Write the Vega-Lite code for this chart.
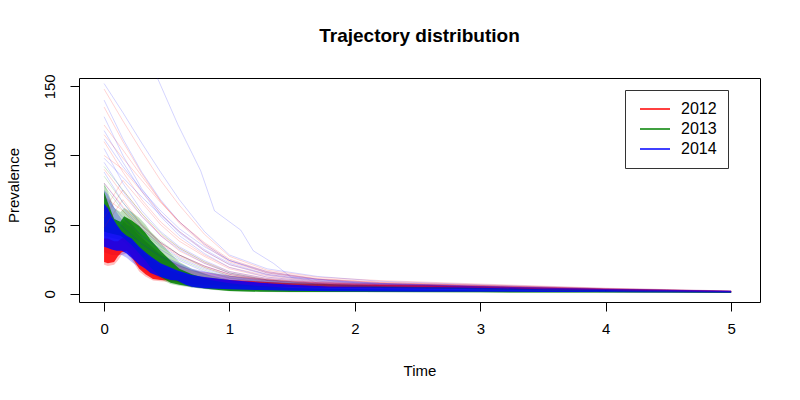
{
  "$schema": "https://vega.github.io/schema/vega-lite/v6.json",
  "width": 681,
  "height": 224,
  "autosize": {"type": "none"},
  "padding": {"left": 79, "top": 78, "right": 40, "bottom": 98},
  "background": "white",
  "config": {
    "font": "Liberation Sans",
    "view": {"stroke": "black", "strokeWidth": 1},
    "axis": {"grid": false, "domain": false, "tickColor": "black", "tickSize": 9, "labelColor": "black", "labelFontSize": 15, "titleFontSize": 15, "titleFontWeight": "normal", "titleColor": "black", "labelFont": "Liberation Sans", "titleFont": "Liberation Sans"}
  },
  "title": {"text": "Trajectory distribution", "fontSize": 19, "fontWeight": "bold", "font": "Liberation Sans", "anchor": "middle", "offset": 28, "color": "black"},
  "datasets": {
    "band": [
      {"year": "2012", "t": 0, "lo": 23, "hi": 40, "hlo": 21, "hhi": 48},
      {"year": "2012", "t": 0.03, "lo": 22, "hi": 40, "hlo": 20, "hhi": 48},
      {"year": "2012", "t": 0.08, "lo": 23, "hi": 38, "hlo": 21, "hhi": 46},
      {"year": "2012", "t": 0.11, "lo": 27, "hi": 38, "hlo": 24, "hhi": 46},
      {"year": "2012", "t": 0.14, "lo": 30, "hi": 40, "hlo": 28, "hhi": 50},
      {"year": "2012", "t": 0.18, "lo": 31, "hi": 42, "hlo": 29, "hhi": 55},
      {"year": "2012", "t": 0.21, "lo": 28, "hi": 40, "hlo": 26, "hhi": 52},
      {"year": "2012", "t": 0.28, "lo": 18, "hi": 33, "hlo": 16, "hhi": 44},
      {"year": "2012", "t": 0.33, "lo": 14, "hi": 28, "hlo": 12.5, "hhi": 38},
      {"year": "2012", "t": 0.39, "lo": 10.7, "hi": 24, "hlo": 9.5, "hhi": 33},
      {"year": "2012", "t": 0.45, "lo": 10, "hi": 20, "hlo": 9, "hhi": 28},
      {"year": "2012", "t": 0.55, "lo": 9.5, "hi": 16, "hlo": 8.5, "hhi": 23},
      {"year": "2012", "t": 0.62, "lo": 8, "hi": 14, "hlo": 7.2, "hhi": 20},
      {"year": "2012", "t": 0.7, "lo": 7, "hi": 12.5, "hlo": 6.3, "hhi": 17},
      {"year": "2012", "t": 1.0, "lo": 5.5, "hi": 10, "hlo": 5, "hhi": 13},
      {"year": "2012", "t": 1.5, "lo": 4.5, "hi": 7.5, "hlo": 4, "hhi": 9},
      {"year": "2012", "t": 2.0, "lo": 4, "hi": 6.5, "hlo": 3.6, "hhi": 7.5},
      {"year": "2012", "t": 2.6, "lo": 3.8, "hi": 6, "hlo": 3.4, "hhi": 6.8},
      {"year": "2012", "t": 3.0, "lo": 3.2, "hi": 5, "hlo": 2.9, "hhi": 5.8},
      {"year": "2012", "t": 3.5, "lo": 2.5, "hi": 4, "hlo": 2.2, "hhi": 4.6},
      {"year": "2012", "t": 4.0, "lo": 2, "hi": 3.2, "hlo": 1.8, "hhi": 3.6},
      {"year": "2012", "t": 4.5, "lo": 1.5, "hi": 2.5, "hlo": 1.3, "hhi": 2.8},
      {"year": "2012", "t": 5.0, "lo": 1, "hi": 1.8, "hlo": 0.9, "hhi": 2},
      {"year": "2013", "t": 0, "lo": 45, "hi": 74, "hlo": 42, "hhi": 80},
      {"year": "2013", "t": 0.03, "lo": 44, "hi": 66, "hlo": 41, "hhi": 74},
      {"year": "2013", "t": 0.08, "lo": 43, "hi": 54, "hlo": 40, "hhi": 62},
      {"year": "2013", "t": 0.13, "lo": 42, "hi": 52, "hlo": 39, "hhi": 59},
      {"year": "2013", "t": 0.16, "lo": 40, "hi": 56, "hlo": 37, "hhi": 62},
      {"year": "2013", "t": 0.22, "lo": 35, "hi": 53, "hlo": 32, "hhi": 59},
      {"year": "2013", "t": 0.28, "lo": 29, "hi": 49, "hlo": 26, "hhi": 55},
      {"year": "2013", "t": 0.33, "lo": 24, "hi": 44, "hlo": 21, "hhi": 50},
      {"year": "2013", "t": 0.37, "lo": 19, "hi": 39, "hlo": 17, "hhi": 45},
      {"year": "2013", "t": 0.45, "lo": 12, "hi": 31, "hlo": 10.5, "hhi": 37},
      {"year": "2013", "t": 0.53, "lo": 8, "hi": 24, "hlo": 7, "hhi": 29},
      {"year": "2013", "t": 0.6, "lo": 6.5, "hi": 18, "hlo": 5.8, "hhi": 23},
      {"year": "2013", "t": 0.7, "lo": 5, "hi": 14, "hlo": 4.4, "hhi": 18},
      {"year": "2013", "t": 0.85, "lo": 3.2, "hi": 10, "hlo": 2.8, "hhi": 13},
      {"year": "2013", "t": 1.0, "lo": 2, "hi": 7.5, "hlo": 1.8, "hhi": 10},
      {"year": "2013", "t": 1.25, "lo": 1.4, "hi": 5.5, "hlo": 1.2, "hhi": 7},
      {"year": "2013", "t": 1.5, "lo": 1.3, "hi": 4.2, "hlo": 1.1, "hhi": 5.5},
      {"year": "2013", "t": 2.0, "lo": 1.2, "hi": 3.4, "hlo": 1, "hhi": 4.2},
      {"year": "2013", "t": 3.0, "lo": 1, "hi": 2.5, "hlo": 0.8, "hhi": 3},
      {"year": "2013", "t": 4.0, "lo": 0.8, "hi": 1.8, "hlo": 0.6, "hhi": 2.2},
      {"year": "2013", "t": 5.0, "lo": 0.6, "hi": 1.2, "hlo": 0.5, "hhi": 1.5},
      {"year": "2014", "t": 0, "lo": 34, "hi": 65, "hlo": 30, "hhi": 75},
      {"year": "2014", "t": 0.03, "lo": 33, "hi": 62, "hlo": 29, "hhi": 72},
      {"year": "2014", "t": 0.06, "lo": 32, "hi": 56, "hlo": 28, "hhi": 66},
      {"year": "2014", "t": 0.1, "lo": 31, "hi": 50, "hlo": 28, "hhi": 59},
      {"year": "2014", "t": 0.14, "lo": 31, "hi": 45, "hlo": 28, "hhi": 54},
      {"year": "2014", "t": 0.18, "lo": 29, "hi": 42, "hlo": 26, "hhi": 50},
      {"year": "2014", "t": 0.22, "lo": 26, "hi": 40, "hlo": 23, "hhi": 48},
      {"year": "2014", "t": 0.28, "lo": 21, "hi": 34, "hlo": 19, "hhi": 42},
      {"year": "2014", "t": 0.33, "lo": 18, "hi": 30, "hlo": 16, "hhi": 38},
      {"year": "2014", "t": 0.37, "lo": 15, "hi": 27, "hlo": 13.5, "hhi": 35},
      {"year": "2014", "t": 0.45, "lo": 12, "hi": 22, "hlo": 11, "hhi": 29},
      {"year": "2014", "t": 0.53, "lo": 10, "hi": 19, "hlo": 9, "hhi": 25},
      {"year": "2014", "t": 0.58, "lo": 9.5, "hi": 17, "hlo": 8.5, "hhi": 23},
      {"year": "2014", "t": 0.65, "lo": 6.4, "hi": 15, "hlo": 5.8, "hhi": 20},
      {"year": "2014", "t": 0.7, "lo": 5, "hi": 13.5, "hlo": 4.5, "hhi": 18},
      {"year": "2014", "t": 0.8, "lo": 4, "hi": 12, "hlo": 3.6, "hhi": 16},
      {"year": "2014", "t": 1.0, "lo": 3.2, "hi": 10, "hlo": 2.9, "hhi": 13},
      {"year": "2014", "t": 1.25, "lo": 2.6, "hi": 8, "hlo": 2.3, "hhi": 10.5},
      {"year": "2014", "t": 1.5, "lo": 2.2, "hi": 6.5, "hlo": 2, "hhi": 8.5},
      {"year": "2014", "t": 1.8, "lo": 1.8, "hi": 5.2, "hlo": 1.6, "hhi": 7},
      {"year": "2014", "t": 2.5, "lo": 1.5, "hi": 4.6, "hlo": 1.4, "hhi": 6},
      {"year": "2014", "t": 2.9, "lo": 1.5, "hi": 4.5, "hlo": 1.4, "hhi": 5.6},
      {"year": "2014", "t": 3.5, "lo": 1.3, "hi": 3.3, "hlo": 1.2, "hhi": 4.2},
      {"year": "2014", "t": 3.9, "lo": 1.2, "hi": 2.8, "hlo": 1.1, "hhi": 3.5},
      {"year": "2014", "t": 4.3, "lo": 1, "hi": 2, "hlo": 0.9, "hhi": 2.6},
      {"year": "2014", "t": 5.0, "lo": 0.8, "hi": 1.3, "hlo": 0.7, "hhi": 1.6}
    ],
    "traj": [
      {"run": "r1", "year": "2012", "t": 0, "v": 148}, {"run": "r1", "year": "2012", "t": 0.15, "v": 125}, {"run": "r1", "year": "2012", "t": 0.3, "v": 103}, {"run": "r1", "year": "2012", "t": 0.45, "v": 82}, {"run": "r1", "year": "2012", "t": 0.6, "v": 64}, {"run": "r1", "year": "2012", "t": 0.8, "v": 43}, {"run": "r1", "year": "2012", "t": 1.0, "v": 27}, {"run": "r1", "year": "2012", "t": 1.3, "v": 17}, {"run": "r1", "year": "2012", "t": 1.7, "v": 12}, {"run": "r1", "year": "2012", "t": 2.2, "v": 9.5}, {"run": "r1", "year": "2012", "t": 3.0, "v": 7}, {"run": "r1", "year": "2012", "t": 4.0, "v": 4}, {"run": "r1", "year": "2012", "t": 5.0, "v": 2},
      {"run": "r2", "year": "2012", "t": 0, "v": 135}, {"run": "r2", "year": "2012", "t": 0.15, "v": 110}, {"run": "r2", "year": "2012", "t": 0.3, "v": 87}, {"run": "r2", "year": "2012", "t": 0.45, "v": 67}, {"run": "r2", "year": "2012", "t": 0.6, "v": 51}, {"run": "r2", "year": "2012", "t": 0.8, "v": 35}, {"run": "r2", "year": "2012", "t": 1.0, "v": 23}, {"run": "r2", "year": "2012", "t": 1.3, "v": 15}, {"run": "r2", "year": "2012", "t": 1.7, "v": 10.5}, {"run": "r2", "year": "2012", "t": 2.2, "v": 8}, {"run": "r2", "year": "2012", "t": 3.0, "v": 6}, {"run": "r2", "year": "2012", "t": 4.0, "v": 3.5}, {"run": "r2", "year": "2012", "t": 5.0, "v": 1.8},
      {"run": "r3", "year": "2012", "t": 0, "v": 122}, {"run": "r3", "year": "2012", "t": 0.15, "v": 104}, {"run": "r3", "year": "2012", "t": 0.3, "v": 85}, {"run": "r3", "year": "2012", "t": 0.45, "v": 67}, {"run": "r3", "year": "2012", "t": 0.6, "v": 52}, {"run": "r3", "year": "2012", "t": 0.8, "v": 36}, {"run": "r3", "year": "2012", "t": 1.0, "v": 24}, {"run": "r3", "year": "2012", "t": 1.3, "v": 15.5}, {"run": "r3", "year": "2012", "t": 1.7, "v": 10.5}, {"run": "r3", "year": "2012", "t": 2.2, "v": 8}, {"run": "r3", "year": "2012", "t": 3.0, "v": 6}, {"run": "r3", "year": "2012", "t": 4.0, "v": 3.5}, {"run": "r3", "year": "2012", "t": 5.0, "v": 1.8},
      {"run": "r4", "year": "2012", "t": 0, "v": 110}, {"run": "r4", "year": "2012", "t": 0.15, "v": 88}, {"run": "r4", "year": "2012", "t": 0.3, "v": 68}, {"run": "r4", "year": "2012", "t": 0.45, "v": 52}, {"run": "r4", "year": "2012", "t": 0.6, "v": 40}, {"run": "r4", "year": "2012", "t": 0.8, "v": 28}, {"run": "r4", "year": "2012", "t": 1.0, "v": 19}, {"run": "r4", "year": "2012", "t": 1.3, "v": 13}, {"run": "r4", "year": "2012", "t": 1.7, "v": 9}, {"run": "r4", "year": "2012", "t": 2.2, "v": 7}, {"run": "r4", "year": "2012", "t": 3.0, "v": 5.5}, {"run": "r4", "year": "2012", "t": 4.0, "v": 3.2}, {"run": "r4", "year": "2012", "t": 5.0, "v": 1.7},
      {"run": "r5", "year": "2012", "t": 0, "v": 100}, {"run": "r5", "year": "2012", "t": 0.15, "v": 90}, {"run": "r5", "year": "2012", "t": 0.3, "v": 74}, {"run": "r5", "year": "2012", "t": 0.45, "v": 58}, {"run": "r5", "year": "2012", "t": 0.6, "v": 45}, {"run": "r5", "year": "2012", "t": 0.8, "v": 31}, {"run": "r5", "year": "2012", "t": 1.0, "v": 21}, {"run": "r5", "year": "2012", "t": 1.3, "v": 14}, {"run": "r5", "year": "2012", "t": 1.7, "v": 9.5}, {"run": "r5", "year": "2012", "t": 2.2, "v": 7.5}, {"run": "r5", "year": "2012", "t": 3.0, "v": 5.8}, {"run": "r5", "year": "2012", "t": 4.0, "v": 3.4}, {"run": "r5", "year": "2012", "t": 5.0, "v": 1.7},
      {"run": "r6", "year": "2012", "t": 0, "v": 90}, {"run": "r6", "year": "2012", "t": 0.15, "v": 72}, {"run": "r6", "year": "2012", "t": 0.3, "v": 56}, {"run": "r6", "year": "2012", "t": 0.45, "v": 43}, {"run": "r6", "year": "2012", "t": 0.6, "v": 33}, {"run": "r6", "year": "2012", "t": 0.8, "v": 23}, {"run": "r6", "year": "2012", "t": 1.0, "v": 16}, {"run": "r6", "year": "2012", "t": 1.3, "v": 11}, {"run": "r6", "year": "2012", "t": 1.7, "v": 8}, {"run": "r6", "year": "2012", "t": 2.2, "v": 6.5}, {"run": "r6", "year": "2012", "t": 3.0, "v": 5.2}, {"run": "r6", "year": "2012", "t": 4.0, "v": 3.1}, {"run": "r6", "year": "2012", "t": 5.0, "v": 1.6},
      {"run": "r7", "year": "2012", "t": 0, "v": 55}, {"run": "r7", "year": "2012", "t": 0.15, "v": 75}, {"run": "r7", "year": "2012", "t": 0.3, "v": 58}, {"run": "r7", "year": "2012", "t": 0.45, "v": 42}, {"run": "r7", "year": "2012", "t": 0.6, "v": 31}, {"run": "r7", "year": "2012", "t": 0.8, "v": 22}, {"run": "r7", "year": "2012", "t": 1.0, "v": 15}, {"run": "r7", "year": "2012", "t": 1.3, "v": 10.5}, {"run": "r7", "year": "2012", "t": 1.7, "v": 8}, {"run": "r7", "year": "2012", "t": 2.2, "v": 6.5}, {"run": "r7", "year": "2012", "t": 3.0, "v": 5}, {"run": "r7", "year": "2012", "t": 4.0, "v": 3}, {"run": "r7", "year": "2012", "t": 5.0, "v": 1.6},
      {"run": "r8", "year": "2012", "t": 0, "v": 48}, {"run": "r8", "year": "2012", "t": 0.15, "v": 68}, {"run": "r8", "year": "2012", "t": 0.3, "v": 50}, {"run": "r8", "year": "2012", "t": 0.45, "v": 37}, {"run": "r8", "year": "2012", "t": 0.6, "v": 28}, {"run": "r8", "year": "2012", "t": 0.8, "v": 20}, {"run": "r8", "year": "2012", "t": 1.0, "v": 14}, {"run": "r8", "year": "2012", "t": 1.3, "v": 10}, {"run": "r8", "year": "2012", "t": 1.7, "v": 7.5}, {"run": "r8", "year": "2012", "t": 2.2, "v": 6.2}, {"run": "r8", "year": "2012", "t": 3.0, "v": 5}, {"run": "r8", "year": "2012", "t": 4.0, "v": 3}, {"run": "r8", "year": "2012", "t": 5.0, "v": 1.6},
      {"run": "r9", "year": "2012", "t": 0, "v": 80}, {"run": "r9", "year": "2012", "t": 0.15, "v": 63}, {"run": "r9", "year": "2012", "t": 0.3, "v": 49}, {"run": "r9", "year": "2012", "t": 0.45, "v": 37}, {"run": "r9", "year": "2012", "t": 0.6, "v": 28}, {"run": "r9", "year": "2012", "t": 0.8, "v": 20}, {"run": "r9", "year": "2012", "t": 1.0, "v": 14}, {"run": "r9", "year": "2012", "t": 1.3, "v": 10}, {"run": "r9", "year": "2012", "t": 1.7, "v": 7.5}, {"run": "r9", "year": "2012", "t": 2.2, "v": 6.2}, {"run": "r9", "year": "2012", "t": 3.0, "v": 5}, {"run": "r9", "year": "2012", "t": 4.0, "v": 3}, {"run": "r9", "year": "2012", "t": 5.0, "v": 1.5},
      {"run": "r10", "year": "2012", "t": 0, "v": 70}, {"run": "r10", "year": "2012", "t": 0.15, "v": 60}, {"run": "r10", "year": "2012", "t": 0.3, "v": 47}, {"run": "r10", "year": "2012", "t": 0.45, "v": 36}, {"run": "r10", "year": "2012", "t": 0.6, "v": 27}, {"run": "r10", "year": "2012", "t": 0.8, "v": 19}, {"run": "r10", "year": "2012", "t": 1.0, "v": 13}, {"run": "r10", "year": "2012", "t": 1.3, "v": 9.5}, {"run": "r10", "year": "2012", "t": 1.7, "v": 7.2}, {"run": "r10", "year": "2012", "t": 2.2, "v": 6}, {"run": "r10", "year": "2012", "t": 3.0, "v": 4.8}, {"run": "r10", "year": "2012", "t": 4.0, "v": 2.9}, {"run": "r10", "year": "2012", "t": 5.0, "v": 1.5},
      {"run": "r11", "year": "2012", "t": 0, "v": 60}, {"run": "r11", "year": "2012", "t": 0.15, "v": 82}, {"run": "r11", "year": "2012", "t": 0.3, "v": 66}, {"run": "r11", "year": "2012", "t": 0.45, "v": 50}, {"run": "r11", "year": "2012", "t": 0.6, "v": 38}, {"run": "r11", "year": "2012", "t": 0.8, "v": 27}, {"run": "r11", "year": "2012", "t": 1.0, "v": 18}, {"run": "r11", "year": "2012", "t": 1.3, "v": 12}, {"run": "r11", "year": "2012", "t": 1.7, "v": 8.5}, {"run": "r11", "year": "2012", "t": 2.2, "v": 6.8}, {"run": "r11", "year": "2012", "t": 3.0, "v": 5.2}, {"run": "r11", "year": "2012", "t": 4.0, "v": 3.1}, {"run": "r11", "year": "2012", "t": 5.0, "v": 1.6},
      {"run": "r12", "year": "2012", "t": 0, "v": 115}, {"run": "r12", "year": "2012", "t": 0.15, "v": 98}, {"run": "r12", "year": "2012", "t": 0.3, "v": 82}, {"run": "r12", "year": "2012", "t": 0.45, "v": 66}, {"run": "r12", "year": "2012", "t": 0.6, "v": 52}, {"run": "r12", "year": "2012", "t": 0.8, "v": 37}, {"run": "r12", "year": "2012", "t": 1.0, "v": 25}, {"run": "r12", "year": "2012", "t": 1.3, "v": 16}, {"run": "r12", "year": "2012", "t": 1.7, "v": 11}, {"run": "r12", "year": "2012", "t": 2.2, "v": 8.5}, {"run": "r12", "year": "2012", "t": 3.0, "v": 6.3}, {"run": "r12", "year": "2012", "t": 4.0, "v": 3.6}, {"run": "r12", "year": "2012", "t": 5.0, "v": 1.8},
      {"run": "g1", "year": "2013", "t": 0, "v": 85}, {"run": "g1", "year": "2013", "t": 0.15, "v": 66}, {"run": "g1", "year": "2013", "t": 0.3, "v": 50}, {"run": "g1", "year": "2013", "t": 0.45, "v": 38}, {"run": "g1", "year": "2013", "t": 0.6, "v": 28}, {"run": "g1", "year": "2013", "t": 0.8, "v": 19}, {"run": "g1", "year": "2013", "t": 1.0, "v": 13}, {"run": "g1", "year": "2013", "t": 1.3, "v": 9}, {"run": "g1", "year": "2013", "t": 1.7, "v": 6.5}, {"run": "g1", "year": "2013", "t": 2.2, "v": 5}, {"run": "g1", "year": "2013", "t": 3.0, "v": 3.5}, {"run": "g1", "year": "2013", "t": 4.0, "v": 2}, {"run": "g1", "year": "2013", "t": 5.0, "v": 1.2},
      {"run": "g2", "year": "2013", "t": 0, "v": 78}, {"run": "g2", "year": "2013", "t": 0.15, "v": 60}, {"run": "g2", "year": "2013", "t": 0.3, "v": 45}, {"run": "g2", "year": "2013", "t": 0.45, "v": 34}, {"run": "g2", "year": "2013", "t": 0.6, "v": 25}, {"run": "g2", "year": "2013", "t": 0.8, "v": 17}, {"run": "g2", "year": "2013", "t": 1.0, "v": 11.5}, {"run": "g2", "year": "2013", "t": 1.3, "v": 8}, {"run": "g2", "year": "2013", "t": 1.7, "v": 6}, {"run": "g2", "year": "2013", "t": 2.2, "v": 4.5}, {"run": "g2", "year": "2013", "t": 3.0, "v": 3.3}, {"run": "g2", "year": "2013", "t": 4.0, "v": 1.9}, {"run": "g2", "year": "2013", "t": 5.0, "v": 1.1},
      {"run": "g3", "year": "2013", "t": 0, "v": 92}, {"run": "g3", "year": "2013", "t": 0.15, "v": 75}, {"run": "g3", "year": "2013", "t": 0.3, "v": 58}, {"run": "g3", "year": "2013", "t": 0.45, "v": 44}, {"run": "g3", "year": "2013", "t": 0.6, "v": 33}, {"run": "g3", "year": "2013", "t": 0.8, "v": 23}, {"run": "g3", "year": "2013", "t": 1.0, "v": 15}, {"run": "g3", "year": "2013", "t": 1.3, "v": 10}, {"run": "g3", "year": "2013", "t": 1.7, "v": 7}, {"run": "g3", "year": "2013", "t": 2.2, "v": 5.2}, {"run": "g3", "year": "2013", "t": 3.0, "v": 3.6}, {"run": "g3", "year": "2013", "t": 4.0, "v": 2.1}, {"run": "g3", "year": "2013", "t": 5.0, "v": 1.2},
      {"run": "b0", "year": "2014", "t": 0, "v": 240}, {"run": "b0", "year": "2014", "t": 0.15, "v": 210}, {"run": "b0", "year": "2014", "t": 0.3, "v": 180}, {"run": "b0", "year": "2014", "t": 0.44, "v": 153}, {"run": "b0", "year": "2014", "t": 0.59, "v": 122}, {"run": "b0", "year": "2014", "t": 0.77, "v": 89}, {"run": "b0", "year": "2014", "t": 0.88, "v": 60}, {"run": "b0", "year": "2014", "t": 1.09, "v": 46}, {"run": "b0", "year": "2014", "t": 1.19, "v": 31}, {"run": "b0", "year": "2014", "t": 1.35, "v": 22}, {"run": "b0", "year": "2014", "t": 1.49, "v": 12}, {"run": "b0", "year": "2014", "t": 2.0, "v": 8}, {"run": "b0", "year": "2014", "t": 3.0, "v": 5}, {"run": "b0", "year": "2014", "t": 4.0, "v": 3}, {"run": "b0", "year": "2014", "t": 5.0, "v": 1.8},
      {"run": "b1", "year": "2014", "t": 0, "v": 152}, {"run": "b1", "year": "2014", "t": 0.15, "v": 131}, {"run": "b1", "year": "2014", "t": 0.3, "v": 109}, {"run": "b1", "year": "2014", "t": 0.45, "v": 88}, {"run": "b1", "year": "2014", "t": 0.6, "v": 68}, {"run": "b1", "year": "2014", "t": 0.8, "v": 45}, {"run": "b1", "year": "2014", "t": 1.0, "v": 28}, {"run": "b1", "year": "2014", "t": 1.3, "v": 18}, {"run": "b1", "year": "2014", "t": 1.7, "v": 12.5}, {"run": "b1", "year": "2014", "t": 2.2, "v": 9}, {"run": "b1", "year": "2014", "t": 3.0, "v": 6.5}, {"run": "b1", "year": "2014", "t": 4.0, "v": 3.8}, {"run": "b1", "year": "2014", "t": 5.0, "v": 2},
      {"run": "b2", "year": "2014", "t": 0, "v": 140}, {"run": "b2", "year": "2014", "t": 0.15, "v": 112}, {"run": "b2", "year": "2014", "t": 0.3, "v": 88}, {"run": "b2", "year": "2014", "t": 0.45, "v": 68}, {"run": "b2", "year": "2014", "t": 0.6, "v": 52}, {"run": "b2", "year": "2014", "t": 0.8, "v": 36}, {"run": "b2", "year": "2014", "t": 1.0, "v": 24}, {"run": "b2", "year": "2014", "t": 1.3, "v": 15}, {"run": "b2", "year": "2014", "t": 1.7, "v": 10}, {"run": "b2", "year": "2014", "t": 2.2, "v": 7.5}, {"run": "b2", "year": "2014", "t": 3.0, "v": 5.5}, {"run": "b2", "year": "2014", "t": 4.0, "v": 3.2}, {"run": "b2", "year": "2014", "t": 5.0, "v": 1.8},
      {"run": "b3", "year": "2014", "t": 0, "v": 128}, {"run": "b3", "year": "2014", "t": 0.15, "v": 100}, {"run": "b3", "year": "2014", "t": 0.3, "v": 76}, {"run": "b3", "year": "2014", "t": 0.45, "v": 58}, {"run": "b3", "year": "2014", "t": 0.6, "v": 44}, {"run": "b3", "year": "2014", "t": 0.8, "v": 31}, {"run": "b3", "year": "2014", "t": 1.0, "v": 21}, {"run": "b3", "year": "2014", "t": 1.3, "v": 13.5}, {"run": "b3", "year": "2014", "t": 1.7, "v": 9}, {"run": "b3", "year": "2014", "t": 2.2, "v": 6.8}, {"run": "b3", "year": "2014", "t": 3.0, "v": 5}, {"run": "b3", "year": "2014", "t": 4.0, "v": 3}, {"run": "b3", "year": "2014", "t": 5.0, "v": 1.7},
      {"run": "b4", "year": "2014", "t": 0, "v": 118}, {"run": "b4", "year": "2014", "t": 0.15, "v": 95}, {"run": "b4", "year": "2014", "t": 0.3, "v": 74}, {"run": "b4", "year": "2014", "t": 0.45, "v": 56}, {"run": "b4", "year": "2014", "t": 0.6, "v": 42}, {"run": "b4", "year": "2014", "t": 0.8, "v": 29}, {"run": "b4", "year": "2014", "t": 1.0, "v": 19}, {"run": "b4", "year": "2014", "t": 1.3, "v": 12}, {"run": "b4", "year": "2014", "t": 1.7, "v": 8.5}, {"run": "b4", "year": "2014", "t": 2.2, "v": 6.5}, {"run": "b4", "year": "2014", "t": 3.0, "v": 4.8}, {"run": "b4", "year": "2014", "t": 4.0, "v": 2.9}, {"run": "b4", "year": "2014", "t": 5.0, "v": 1.6},
      {"run": "b5", "year": "2014", "t": 0, "v": 105}, {"run": "b5", "year": "2014", "t": 0.15, "v": 80}, {"run": "b5", "year": "2014", "t": 0.3, "v": 60}, {"run": "b5", "year": "2014", "t": 0.45, "v": 45}, {"run": "b5", "year": "2014", "t": 0.6, "v": 34}, {"run": "b5", "year": "2014", "t": 0.8, "v": 24}, {"run": "b5", "year": "2014", "t": 1.0, "v": 16}, {"run": "b5", "year": "2014", "t": 1.3, "v": 11}, {"run": "b5", "year": "2014", "t": 1.7, "v": 8}, {"run": "b5", "year": "2014", "t": 2.2, "v": 6}, {"run": "b5", "year": "2014", "t": 3.0, "v": 4.5}, {"run": "b5", "year": "2014", "t": 4.0, "v": 2.7}, {"run": "b5", "year": "2014", "t": 5.0, "v": 1.5},
      {"run": "b6", "year": "2014", "t": 0, "v": 95}, {"run": "b6", "year": "2014", "t": 0.15, "v": 74}, {"run": "b6", "year": "2014", "t": 0.3, "v": 56}, {"run": "b6", "year": "2014", "t": 0.45, "v": 42}, {"run": "b6", "year": "2014", "t": 0.6, "v": 32}, {"run": "b6", "year": "2014", "t": 0.8, "v": 22}, {"run": "b6", "year": "2014", "t": 1.0, "v": 15}, {"run": "b6", "year": "2014", "t": 1.3, "v": 10}, {"run": "b6", "year": "2014", "t": 1.7, "v": 7.5}, {"run": "b6", "year": "2014", "t": 2.2, "v": 5.5}, {"run": "b6", "year": "2014", "t": 3.0, "v": 4.2}, {"run": "b6", "year": "2014", "t": 4.0, "v": 2.5}, {"run": "b6", "year": "2014", "t": 5.0, "v": 1.4},
      {"run": "b7", "year": "2014", "t": 0, "v": 88}, {"run": "b7", "year": "2014", "t": 0.15, "v": 66}, {"run": "b7", "year": "2014", "t": 0.3, "v": 49}, {"run": "b7", "year": "2014", "t": 0.45, "v": 37}, {"run": "b7", "year": "2014", "t": 0.6, "v": 28}, {"run": "b7", "year": "2014", "t": 0.8, "v": 20}, {"run": "b7", "year": "2014", "t": 1.0, "v": 14}, {"run": "b7", "year": "2014", "t": 1.3, "v": 9.5}, {"run": "b7", "year": "2014", "t": 1.7, "v": 7}, {"run": "b7", "year": "2014", "t": 2.2, "v": 5.2}, {"run": "b7", "year": "2014", "t": 3.0, "v": 4}, {"run": "b7", "year": "2014", "t": 4.0, "v": 2.4}, {"run": "b7", "year": "2014", "t": 5.0, "v": 1.3},
      {"run": "b8", "year": "2014", "t": 0, "v": 80}, {"run": "b8", "year": "2014", "t": 0.15, "v": 62}, {"run": "b8", "year": "2014", "t": 0.3, "v": 47}, {"run": "b8", "year": "2014", "t": 0.45, "v": 35}, {"run": "b8", "year": "2014", "t": 0.6, "v": 26}, {"run": "b8", "year": "2014", "t": 0.8, "v": 18}, {"run": "b8", "year": "2014", "t": 1.0, "v": 12.5}, {"run": "b8", "year": "2014", "t": 1.3, "v": 8.5}, {"run": "b8", "year": "2014", "t": 1.7, "v": 6.5}, {"run": "b8", "year": "2014", "t": 2.2, "v": 5}, {"run": "b8", "year": "2014", "t": 3.0, "v": 3.8}, {"run": "b8", "year": "2014", "t": 4.0, "v": 2.3}, {"run": "b8", "year": "2014", "t": 5.0, "v": 1.3},
      {"run": "b9", "year": "2014", "t": 0, "v": 70}, {"run": "b9", "year": "2014", "t": 0.15, "v": 55}, {"run": "b9", "year": "2014", "t": 0.3, "v": 42}, {"run": "b9", "year": "2014", "t": 0.45, "v": 32}, {"run": "b9", "year": "2014", "t": 0.6, "v": 24}, {"run": "b9", "year": "2014", "t": 0.8, "v": 16}, {"run": "b9", "year": "2014", "t": 1.0, "v": 11}, {"run": "b9", "year": "2014", "t": 1.3, "v": 8}, {"run": "b9", "year": "2014", "t": 1.7, "v": 6}, {"run": "b9", "year": "2014", "t": 2.2, "v": 4.8}, {"run": "b9", "year": "2014", "t": 3.0, "v": 3.6}, {"run": "b9", "year": "2014", "t": 4.0, "v": 2.2}, {"run": "b9", "year": "2014", "t": 5.0, "v": 1.2},
      {"run": "b10", "year": "2014", "t": 0, "v": 62}, {"run": "b10", "year": "2014", "t": 0.15, "v": 48}, {"run": "b10", "year": "2014", "t": 0.3, "v": 36}, {"run": "b10", "year": "2014", "t": 0.45, "v": 27}, {"run": "b10", "year": "2014", "t": 0.6, "v": 20}, {"run": "b10", "year": "2014", "t": 0.8, "v": 14}, {"run": "b10", "year": "2014", "t": 1.0, "v": 10}, {"run": "b10", "year": "2014", "t": 1.3, "v": 7}, {"run": "b10", "year": "2014", "t": 1.7, "v": 5.5}, {"run": "b10", "year": "2014", "t": 2.2, "v": 4.5}, {"run": "b10", "year": "2014", "t": 3.0, "v": 3.4}, {"run": "b10", "year": "2014", "t": 4.0, "v": 2.1}, {"run": "b10", "year": "2014", "t": 5.0, "v": 1.2},
      {"run": "b11", "year": "2014", "t": 0, "v": 112}, {"run": "b11", "year": "2014", "t": 0.15, "v": 92}, {"run": "b11", "year": "2014", "t": 0.3, "v": 75}, {"run": "b11", "year": "2014", "t": 0.45, "v": 60}, {"run": "b11", "year": "2014", "t": 0.6, "v": 47}, {"run": "b11", "year": "2014", "t": 0.8, "v": 34}, {"run": "b11", "year": "2014", "t": 1.0, "v": 24}, {"run": "b11", "year": "2014", "t": 1.3, "v": 16}, {"run": "b11", "year": "2014", "t": 1.7, "v": 10.5}, {"run": "b11", "year": "2014", "t": 2.2, "v": 7.5}, {"run": "b11", "year": "2014", "t": 3.0, "v": 5.5}, {"run": "b11", "year": "2014", "t": 4.0, "v": 3.3}, {"run": "b11", "year": "2014", "t": 5.0, "v": 1.8},
      {"run": "b12", "year": "2014", "t": 0, "v": 98}, {"run": "b12", "year": "2014", "t": 0.15, "v": 84}, {"run": "b12", "year": "2014", "t": 0.3, "v": 70}, {"run": "b12", "year": "2014", "t": 0.45, "v": 57}, {"run": "b12", "year": "2014", "t": 0.6, "v": 45}, {"run": "b12", "year": "2014", "t": 0.8, "v": 32}, {"run": "b12", "year": "2014", "t": 1.0, "v": 22}, {"run": "b12", "year": "2014", "t": 1.3, "v": 14}, {"run": "b12", "year": "2014", "t": 1.7, "v": 9.5}, {"run": "b12", "year": "2014", "t": 2.2, "v": 7}, {"run": "b12", "year": "2014", "t": 3.0, "v": 5}, {"run": "b12", "year": "2014", "t": 4.0, "v": 3}, {"run": "b12", "year": "2014", "t": 5.0, "v": 1.6}
    ]
  },
  "layer": [
    {
      "data": {"name": "band"},
      "mark": {"type": "area", "opacity": 0.25, "clip": true},
      "encoding": {
        "x": {"field": "t", "type": "quantitative"},
        "y": {"field": "hhi", "type": "quantitative"},
        "y2": {"field": "hlo"},
        "color": {"field": "year", "type": "nominal", "legend": null}
      }
    },
    {
      "data": {"name": "band"},
      "mark": {"type": "area", "opacity": 0.85, "clip": true},
      "encoding": {
        "x": {"field": "t", "type": "quantitative"},
        "y": {"field": "hi", "type": "quantitative"},
        "y2": {"field": "lo"},
        "color": {"field": "year", "type": "nominal", "legend": null}
      }
    },
    {
      "data": {"name": "traj"},
      "mark": {"type": "line", "opacity": 0.17, "strokeWidth": 1, "clip": true},
      "encoding": {
        "x": {"field": "t", "type": "quantitative", "scale": {"domain": [-0.2, 5.23], "nice": false, "zero": false}, "axis": {"values": [0, 1, 2, 3, 4, 5], "format": "d", "labelPadding": 10, "title": "Time", "titleY": 73, "titleBaseline": "alphabetic"}},
        "y": {"field": "v", "type": "quantitative", "scale": {"domain": [-6, 156], "nice": false, "zero": false}, "axis": {"values": [0, 50, 100, 150], "labelAngle": -90, "labelAlign": "center", "labelBaseline": "bottom", "labelPadding": 13, "title": "Prevalence", "titleX": -61, "titleY": 107, "titleAngle": -90, "titleBaseline": "alphabetic"}},
        "detail": {"field": "run"},
        "color": {"field": "year", "type": "nominal", "scale": {"domain": ["2012", "2013", "2014"], "range": ["#FF0000", "#008000", "#0000FF"]}, "legend": {"title": null, "orient": "none", "legendX": 546, "legendY": 12, "symbolType": "M-0.8,0H5.2", "symbolSize": 100, "symbolStrokeWidth": 1.5, "symbolOpacity": 1, "symbolFillColor": "transparent", "labelFontSize": 16, "labelColor": "black", "labelOffset": 29, "padding": 11, "rowPadding": 4, "strokeColor": "#333", "fillColor": "white"}}
      }
    }
  ],
  "resolve": {"legend": {"color": "independent"}}
}
